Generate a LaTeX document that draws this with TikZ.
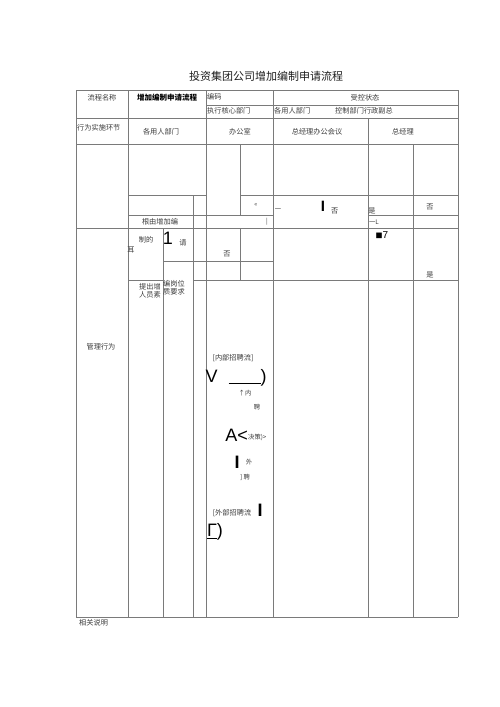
\documentclass[tikz,border=0pt]{standalone}
\usepackage{fontspec}
\setmainfont{Noto Sans CJK SC}
\newfontfamily\latinfont{Liberation Sans}
\usetikzlibrary{positioning}
\definecolor{ruleline}{HTML}{7A7A7A}
\definecolor{formtext}{HTML}{3C3C3C}
\definecolor{titleink}{HTML}{1E1E1E}

\tikzset{
  cell/.style={formtext, inner sep=0pt, font=\fontsize{7.2}{8}\selectfont},
  smallcell/.style={formtext, inner sep=0pt, font=\fontsize{6.3}{7}\selectfont},
  bigglyph/.style={black, inner sep=0pt, font=\fontsize{18}{18}\selectfont\latinfont},
  gridline/.style={ruleline, line width=0.6pt},
}

\begin{document}
\begin{tikzpicture}[x=1pt, y=-1pt]
  \fill[white] (0,0) rectangle (500,707);
  \useasboundingbox (0,0) rectangle (500,707);

  \node[titleink, inner sep=0pt, font=\fontsize{11}{11}\selectfont] (title) at (266,76) {投资集团公司增加编制申请流程};

  % Horizontal rules
  \foreach \ya/\xa/\xb in {90/76/458, 105/206/458, 118/76/458, 144/76/458,
      195/128/206, 195/240/458, 215/128/273, 215/368/458, 228/76/458,
      261/163/273, 280/128/163, 280/193/458, 617/76/458} {
    \draw[gridline] (\xa,\ya) -- (\xb,\ya);
  }

  % Vertical rules
  \foreach \xa/\ya/\yb in {76/90/617, 128/90/617, 206/90/617, 273/90/617,
      368/118/617, 413/144/617, 458/90/617, 240/144/215, 240/228/280,
      193/195/617, 163/228/617} {
    \draw[gridline] (\xa,\ya) -- (\xa,\yb);
  }

  % Header block
  \node[cell] (procname) at (102,98) {流程名称};
  \node[inner sep=0pt, black, font=\fontsize{7.5}{8}\selectfont\bfseries] (procvalue) at (167,98) {增加编制申请流程};
  \node[cell, anchor=west] (code) at (207,97) {编码};
  \node[cell] (ctrlstate) at (365,98) {受控状态};
  \node[cell, anchor=west] (coredept) at (207,111) {执行核心部门};
  \node[cell, anchor=west] (userdept) at (274,111) {各用人部门};
  \node[cell, anchor=west] (ctrldept) at (335,111) {控制部门行政副总};
  \node[cell, anchor=west] (stage) at (77,128) {行为实施环节};

  \foreach \xc/\name/\txt in {161/hdusers/各用人部门, 240/hdoffice/办公室,
      317/hdmeeting/总经理办公会议, 403/hdgm/总经理} {
    \node[cell] (\name) at (\xc,132) {\txt};
  }

  % Upper flow fragments
  \node[smallcell] (mark) at (256,205) {«};
  \node[smallcell] (dashA) at (278,210) {一};
  \node[bigglyph, font=\fontsize{15}{15}\selectfont\latinfont\bfseries] (barA) at (323,206) {I};
  \node[cell, anchor=west] (noA) at (331,211) {否};
  \node[cell] (yesA) at (372,211) {是};
  \node[cell] (noB) at (430,207) {否};
  \node[cell] (basis) at (160,222) {根由增加编};
  \node[smallcell] (tick) at (267,222) {|};
  \node[smallcell] (dashL) at (374,222) {一L};

  \node[cell] (make) at (146,240) {制的};
  \node[cell] (ear) at (131,250) {耳};
  \node[bigglyph] (one) at (168,238) {1};
  \node[cell] (ask) at (183,243) {请};
  \node[cell] (noC) at (227,254) {否};
  \node[black, inner sep=0pt, font=\fontsize{10}{10}\selectfont] (sqseven) at (382,235) {{\fontsize{7}{7}\selectfont ■}{\latinfont 7}};
  \node[cell] (yesB) at (430,275) {是};

  \node[cell, align=center] (propose) at (150,291) {提出增\\人员素};
  \node[cell, align=center] (postreq) at (174,288) {编岗位\\质要求};
  \node[cell] (mgmt) at (101,347) {管理行为};

  % Recruitment fragments
  \node[cell] (inner) at (233,358) {[内部招聘流]};
  \node[bigglyph] (vee) at (236,378) {V\hspace{11pt}\rule[-1pt]{32pt}{1pt})};
  \node[smallcell] (innerB) at (245,393) {↑内};
  \node[smallcell] (hireA) at (257,407) {聘};
  \node[bigglyph, anchor=east] (aless) at (248,435) {A<};
  \node[smallcell, anchor=west] (decide) at (248,437) {决策)>};
  \node[bigglyph, font=\fontsize{18}{18}\selectfont\latinfont\bfseries] (barB) at (237,462) {I};
  \node[smallcell] (outer) at (249,462) {外};
  \node[smallcell] (hireB) at (245,477) {] 聘};
  \node[cell] (outerflow) at (232,513) {[外部招聘流};
  \node[bigglyph, font=\fontsize{18}{18}\selectfont\latinfont\bfseries] (barC) at (260,510) {I};
  \node[bigglyph] (gamma) at (215,532) {\underline{Γ})};

  \node[cell, anchor=west] (notes) at (79,623) {相关说明};
\end{tikzpicture}
\end{document}
